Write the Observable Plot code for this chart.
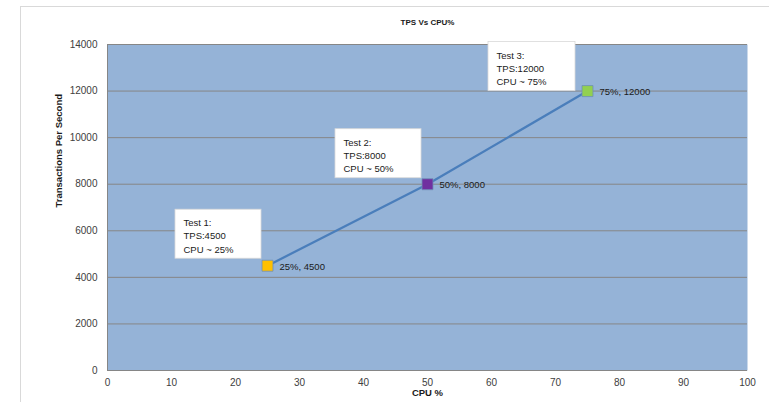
<!DOCTYPE html>
<html><head><meta charset="utf-8">
<script src="https://cdn.jsdelivr.net/npm/d3@7"></script>
<script src="https://cdn.jsdelivr.net/npm/@observablehq/plot@0.6"></script>
<style>
html,body{margin:0;padding:0;background:#fff;}
#wrap{position:relative;width:769px;height:402px;overflow:hidden;}
#border{position:absolute;left:20px;top:6px;width:760px;height:410px;border-left:1px solid #D9D9D9;border-top:1px solid #D9D9D9;}
#chart{position:absolute;left:0;top:0;}
</style></head><body>
<div id="wrap"><div id="border"></div><div id="chart"></div></div>
<script>
const chartTitle = "TPS Vs CPU%";
const xTitle = "CPU %";
const yTitle = "Transactions Per Second";
const cpu = [25, 50, 75];
const tps = [4500, 8000, 12000];
const testNames = ["Test 1:", "Test 2:", "Test 3:"];
const markerColors = ["#FFC000", "#7030A0", "#92D050"];
const xTicks = [0, 10, 20, 30, 40, 50, 60, 70, 80, 90, 100];
const yTicks = [0, 2000, 4000, 6000, 8000, 10000, 12000, 14000];

// callout box placement in pixels relative to each point (style only)
const boxLayout = [
  {left: -92, right: -6, top: -56, bottom: -7},
  {left: -92, right: -6, top: -55, bottom: -6},
  {left: -99, right: -12, top: -49, bottom: 0}
];

const points = cpu.map((c, i) => ({
  cpu: c, tps: tps[i], color: markerColors[i],
  callout: `${testNames[i]}\nTPS:${tps[i]}\nCPU ~ ${c}%`,
  label: `${c}%, ${tps[i]}`
}));

const calloutMarks = points.flatMap((p, i) => {
  const L = boxLayout[i];
  return [
    Plot.rect([p], {x1: "cpu", x2: "cpu", y1: "tps", y2: "tps",
      insetLeft: L.left, insetRight: -L.right, insetTop: L.top, insetBottom: -L.bottom,
      fill: "white", stroke: "#D9D9D9", strokeWidth: 0.8}),
    Plot.text([p], {x: "cpu", y: "tps", text: "callout",
      dx: L.left + 8, dy: L.top + 7, textAnchor: "start", lineAnchor: "top",
      lineHeight: 1.4, fontSize: 9.5, fill: "#1a1a1a"})
  ];
});

const chart = Plot.plot({
  width: 769, height: 402,
  marginLeft: 107, marginRight: 22, marginTop: 44, marginBottom: 32,
  style: {fontFamily: "'Liberation Sans', Arial, sans-serif", background: "transparent"},
  x: {domain: [0, 100], label: null},
  y: {domain: [0, 14000], label: null},
  color: {type: "identity"},
  marks: [
    Plot.frame({fill: "#95B3D7", stroke: null}),
    Plot.gridY(yTicks, {stroke: "#868686", strokeOpacity: 1, strokeWidth: 1}),
    Plot.ruleX([0], {stroke: "#868686", strokeWidth: 1}),
    Plot.axisX(xTicks, {tickSize: 0, tickPadding: 8, fontSize: 10, fill: "#404040", label: null, tickFormat: d => String(d)}),
    Plot.axisY(yTicks, {tickSize: 0, tickPadding: 10, fontSize: 10, fill: "#404040", label: null, tickFormat: d => String(d)}),
    Plot.line(points, {x: "cpu", y: "tps", stroke: "#4A7EBB", strokeWidth: 2.25}),
    ...calloutMarks,
    Plot.dot(points, {x: "cpu", y: "tps", symbol: "square", r: 6.2, fill: "color", stroke: "#6F8FB8", strokeWidth: 0.8}),
    Plot.text(points, {x: "cpu", y: "tps", text: "label", dx: 12, dy: 1, textAnchor: "start", fontSize: 9.5, fill: "#1a1a1a"}),
    Plot.text([chartTitle], {text: d => d, frameAnchor: "top", dy: -25, fontSize: 8, fontWeight: "bold", fill: "#1a1a1a"}),
    Plot.text([xTitle], {text: d => d, frameAnchor: "bottom", dy: 25, fontSize: 9.5, fontWeight: "bold", fill: "#1a1a1a"}),
    Plot.text([yTitle], {text: d => d, frameAnchor: "left", dx: -49, rotate: -90, fontSize: 9.5, fontWeight: "bold", fill: "#1a1a1a"})
  ]
});
document.getElementById("chart").appendChild(chart);
</script>
</body></html>
